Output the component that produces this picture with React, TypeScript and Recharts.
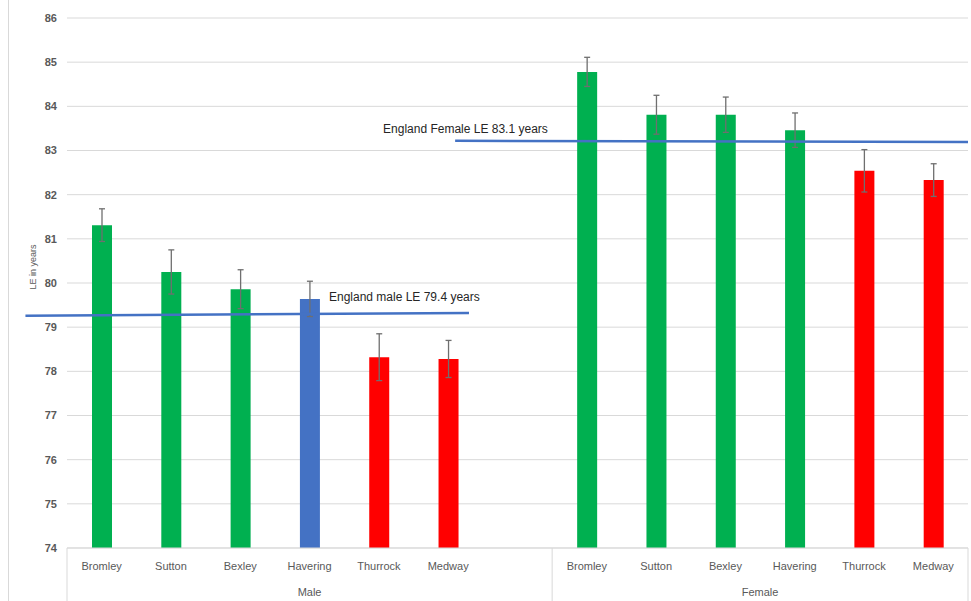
import React from 'react'
import {
  BarChart,
  Bar,
  Cell,
  XAxis,
  YAxis,
  CartesianGrid,
  ErrorBar,
  ReferenceLine,
  ReferenceDot,
} from 'recharts'

const categories = ['Bromley', 'Sutton', 'Bexley', 'Havering', 'Thurrock', 'Medway']
const groups = ['Male', 'Female']

const maleValues = [81.31, 80.25, 79.86, 79.64, 78.32, 78.28]
const maleErrors = [0.37, 0.5, 0.44, 0.4, 0.53, 0.42]
const maleColors = ['#00B050', '#00B050', '#00B050', '#4472C4', '#FF0000', '#FF0000']

const femaleValues = [84.78, 83.81, 83.81, 83.46, 82.54, 82.33]
const femaleErrors = [0.33, 0.44, 0.4, 0.39, 0.48, 0.37]
const femaleColors = ['#00B050', '#00B050', '#00B050', '#00B050', '#FF0000', '#FF0000']

const yTicks = [74, 75, 76, 77, 78, 79, 80, 81, 82, 83, 84, 85, 86]

// England averages, drawn as hand-placed lines in the original
const maleLine = { label: 'England male LE 79.4 years', from: -0.6, to: 5.8, y1: 79.26, y2: 79.32, tx: 3.78, ty: 79.69 }
const femaleLine = { label: 'England Female LE 83.1 years', from: 5.6, to: 13, y1: 83.22, y2: 83.19, tx: 4.56, ty: 83.49 }

const rows = [
  ...categories.map((c, i) => ({ id: `Male|${c}`, value: maleValues[i], err: maleErrors[i], color: maleColors[i] })),
  { id: 'gap|', value: null, err: null, color: 'none' },
  ...categories.map((c, i) => ({ id: `Female|${c}`, value: femaleValues[i], err: femaleErrors[i], color: femaleColors[i] })),
]
// slot centre on a 0..n numeric scale, used by the group axis and the annotations
const data = rows.map((r, i) => ({ ...r, pos: i + 0.5 }))

const maleSpan = categories.length + 1
const total = data.length
const groupCenters = [maleSpan / 2, (maleSpan + total) / 2]
const dividers = [0, maleSpan, total]
const groupTicks = [...dividers, ...groupCenters].sort((a, b) => a - b)

const grey = '#595959'
const lineGrey = '#d9d9d9'
const font = '"Liberation Sans", Arial, sans-serif'

// group axis: labels at group centres, box dividers at group edges
function GroupTick(props: any) {
  const { x, y, payload } = props
  const v = payload.value
  if (dividers.includes(v)) {
    return <line x1={x} x2={x} y1={y - 40} y2={y + 20} stroke={lineGrey} />
  }
  return (
    <text x={x} y={y} dy="0.71em" textAnchor="middle" fill={grey} fontSize={11}>
      {v === groupCenters[0] ? groups[0] : groups[1]}
    </text>
  )
}

export default function App() {
  return (
    <div style={{ position: 'absolute', left: 0, top: 0, width: 971, height: 601, background: '#fff' }}>
      <div style={{ position: 'absolute', left: 8, top: 0, width: 1, height: 601, background: lineGrey }} />
      <BarChart
        width={971}
        height={601}
        data={data}
        margin={{ top: 18, right: 3, bottom: 0, left: 0 }}
        barSize={20}
        style={{ fontFamily: font }}
      >
        <CartesianGrid xAxisId="cat" vertical={false} stroke={lineGrey} />
        <XAxis
          xAxisId="cat"
          dataKey="id"
          height={32}
          tickSize={0}
          tickMargin={14}
          axisLine={{ stroke: lineGrey }}
          interval={0}
          tickFormatter={(v: string) => v.split('|')[1]}
          tick={{ fill: grey, fontSize: 11 }}
        />
        <XAxis
          xAxisId="num"
          dataKey="pos"
          type="number"
          domain={[0, total]}
          allowDataOverflow
          ticks={groupTicks}
          interval={0}
          height={21}
          tickSize={0}
          tickMargin={8}
          axisLine={false}
          tickLine={false}
          tick={<GroupTick />}
        />
        <YAxis
          domain={[74, 86]}
          ticks={yTicks}
          width={67}
          axisLine={false}
          tickLine={false}
          tickMargin={4}
          tick={{ fill: grey, fontSize: 11, fontWeight: 'bold' }}
          label={{
            content: (props: any) => {
              const vb = props.viewBox
              const x = vb.x + 33
              const y = vb.y + vb.height * 0.47
              return (
                <text x={x} y={y} transform={`rotate(-90 ${x} ${y})`} textAnchor="middle" dominantBaseline="central" fontSize={9} fill={grey}>
                  LE in years
                </text>
              )
            },
          }}
        />
        <Bar xAxisId="cat" dataKey="value" isAnimationActive={false}>
          {data.map((d) => (
            <Cell key={d.id} fill={d.color} />
          ))}
          <ErrorBar dataKey="err" width={3} stroke="#6f6f6f" strokeWidth={1.3} />
        </Bar>
        {[maleLine, femaleLine].map((l) => (
          <ReferenceLine
            key={l.label}
            xAxisId="num"
            segment={[{ x: l.from, y: l.y1 }, { x: l.to, y: l.y2 }]}
            stroke="#4472C4"
            strokeWidth={2.5}
            ifOverflow="visible"
          />
        ))}
        {[maleLine, femaleLine].map((l) => (
          <ReferenceDot
            key={'t' + l.label}
            xAxisId="num"
            x={l.tx}
            y={l.ty}
            r={0}
            fill="none"
            stroke="none"
            ifOverflow="visible"
            label={{ value: l.label, position: 'right', offset: 0, fill: '#262626', fontSize: 12 }}
          />
        ))}
      </BarChart>
    </div>
  )
}
